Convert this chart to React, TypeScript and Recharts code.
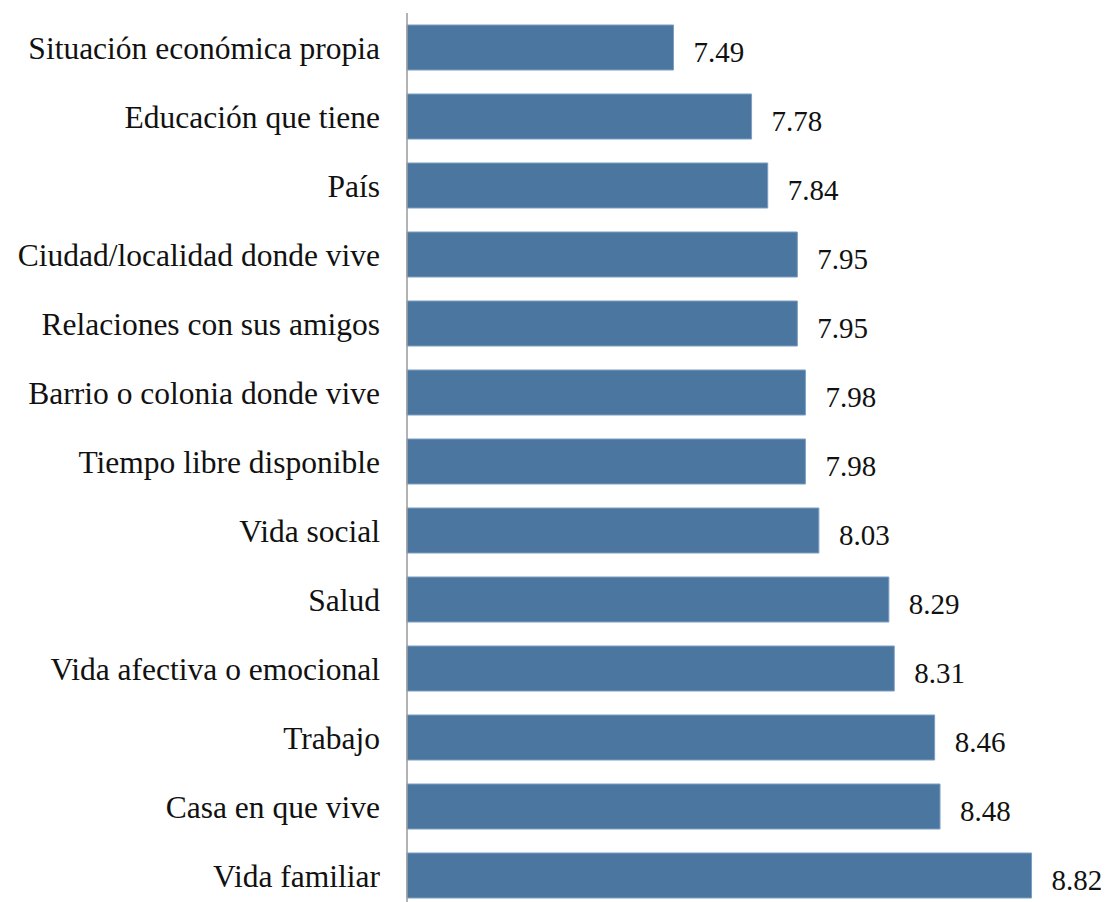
import { BarChart, Bar, XAxis, YAxis, LabelList } from "recharts";

const categories = [
  "Situación económica propia",
  "Educación que tiene",
  "País",
  "Ciudad/localidad donde vive",
  "Relaciones con sus amigos",
  "Barrio o colonia donde vive",
  "Tiempo libre disponible",
  "Vida social",
  "Salud",
  "Vida afectiva o emocional",
  "Trabajo",
  "Casa en que vive",
  "Vida familiar",
];

const values = [7.49, 7.78, 7.84, 7.95, 7.95, 7.98, 7.98, 8.03, 8.29, 8.31, 8.46, 8.48, 8.82];

const data = categories.map((name, i) => ({ name, value: values[i] }));

const font = "'Liberation Serif', serif";

// value label right of the bar, nudged down like the old-style figures in the source
const ValueLabel = (props: any) => {
  const { x, y, width, height, value } = props;
  return (
    <text
      x={Number(x) + Number(width) + 20}
      y={Number(y) + Number(height) / 2 + 4}
      dy="0.355em"
      fill="#111"
      fontSize={29}
      fontFamily={font}
      textAnchor="start"
    >
      {Number(value).toFixed(2)}
    </text>
  );
};

export default function App() {
  return (
    <div style={{ width: 1101, height: 902 }}>
      <BarChart
        width={1101}
        height={902}
        data={data}
        layout="vertical"
        margin={{ top: 5, right: 29, bottom: 0, left: 0 }}
        barCategoryGap="17.4%"
      >
        <XAxis type="number" domain={[6.5, 9]} hide />
        <YAxis
          type="category"
          dataKey="name"
          width={399}
          tickLine={false}
          tickSize={0}
          tickMargin={27}
          axisLine={{ stroke: "#9a9a9a", strokeWidth: 1.5 }}
          tick={{ fill: "#111", fontSize: 31.5, fontFamily: font }}
          interval={0}
        />
        <Bar dataKey="value" fill="#4a76a0" stroke="#7d9dc0" strokeWidth={1} isAnimationActive={false}>
          <LabelList dataKey="value" content={ValueLabel} />
        </Bar>
      </BarChart>
    </div>
  );
}
